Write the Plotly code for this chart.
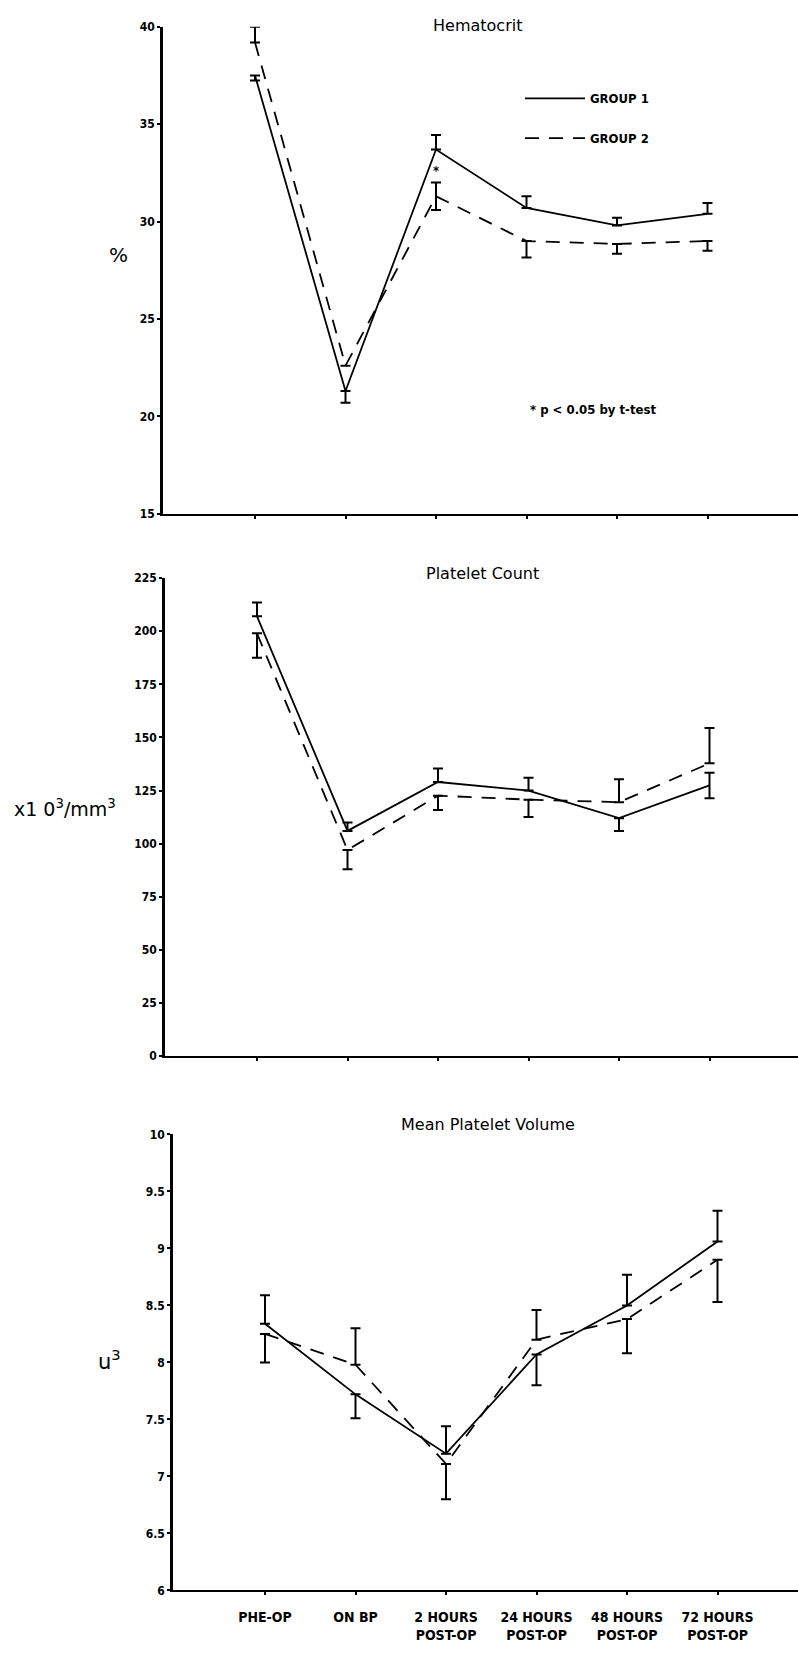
import plotly.graph_objects as go

# ---------------- data ----------------
categories = ["PHE-OP", "ON BP", "2 HOURS<br>POST-OP", "24 HOURS<br>POST-OP",
              "48 HOURS<br>POST-OP", "72 HOURS<br>POST-OP"]

hct_g1 = [37.5, 21.3, 33.7, 30.7, 29.8, 30.4]
hct_g1_up = [0, 0, 0.75, 0.6, 0.4, 0.55]
hct_g1_dn = [0.25, 0.6, 0, 0, 0, 0]
hct_g2 = [39.2, 22.6, 31.3, 29.0, 28.85, 29.0]
hct_g2_up = [0.8, 0, 0.7, 0, 0, 0]
hct_g2_dn = [0, 0, 0.7, 0.85, 0.5, 0.5]

plt_g1 = [207, 106, 129, 125, 112, 127.4]
plt_g1_up = [6.5, 4, 6.4, 6, 0, 6]
plt_g1_dn = [0, 0, 0, 0, 6, 6]
plt_g2 = [199, 97, 122.6, 120.7, 119.5, 137.8]
plt_g2_up = [0, 0, 0, 0, 10.8, 16.7]
plt_g2_dn = [11.5, 9, 6.8, 8.1, 0, 0]

mpv_g1 = [8.34, 7.72, 7.2, 8.07, 8.5, 9.06]
mpv_g1_up = [0.25, 0, 0.24, 0, 0.27, 0.27]
mpv_g1_dn = [0, 0.21, 0, 0.27, 0, 0]
mpv_g2 = [8.25, 7.98, 7.11, 8.2, 8.38, 8.9]
mpv_g2_up = [0, 0.32, 0, 0.26, 0, 0]
mpv_g2_dn = [0.25, 0, 0.31, 0, 0.3, 0.37]

group_names = ["GROUP 1", "GROUP 2"]
panel_titles = ["Hematocrit", "Platelet Count", "Mean Platelet Volume"]

# ---------------- figure ----------------
W, H = 798, 1655
xpos = list(range(len(categories)))
NARROW = "Liberation Sans Narrow, Arial Narrow, DejaVu Sans Condensed, sans-serif"
REG = "DejaVu Sans, Liberation Sans, Arial, sans-serif"

fig = go.Figure()

panels = [
    (hct_g1, hct_g1_up, hct_g1_dn, hct_g2, hct_g2_up, hct_g2_dn),
    (plt_g1, plt_g1_up, plt_g1_dn, plt_g2, plt_g2_up, plt_g2_dn),
    (mpv_g1, mpv_g1_up, mpv_g1_dn, mpv_g2, mpv_g2_up, mpv_g2_dn),
]

for i, (g1, g1u, g1d, g2, g2u, g2d) in enumerate(panels):
    xa = "x" if i == 0 else f"x{i+1}"
    ya = "y" if i == 0 else f"y{i+1}"
    for j, (vals, up, dn, dash) in enumerate([(g1, g1u, g1d, "solid"),
                                              (g2, g2u, g2d, "14px,10px")]):
        fig.add_trace(go.Scatter(
            x=xpos, y=vals, mode="lines", name=group_names[j],
            line=dict(color="black", width=1.8, dash=dash),
            error_y=dict(type="data", symmetric=False, array=up, arrayminus=dn,
                         color="black", thickness=2, width=5),
            xaxis=xa, yaxis=ya, showlegend=(i == 0), legendgroup=f"g{j}",
        ))

# axis geometry (pixels)
axis_left = [163, 165, 173]
first_cat = [255, 257, 265]
spacing = 90.5
ypix = [(20, 511), (576, 1058), (1137, 1597)]
yranges = [[15, 40], [0, 225], [6, 10]]
ydticks = [5, 25, 0.5]

for i in range(3):
    sx = "" if i == 0 else str(i + 1)
    left = axis_left[i]
    r0 = -(first_cat[i] - left) / spacing
    r1 = (W - first_cat[i]) / spacing
    fig.layout[f"xaxis{sx}"] = dict(
        domain=[left / W, 1], range=[r0, r1], anchor=f"y{sx}",
        showline=True, linecolor="black", linewidth=2, mirror=False,
        showgrid=False, zeroline=False,
        tickmode="array", tickvals=xpos, ticktext=categories,
        showticklabels=(i == 2), ticks="outside", ticklen=3, tickwidth=2,
        tickcolor="black", ticklabelstandoff=10,
        tickfont=dict(family=NARROW, size=14, color="black", weight="bold"),
    )
    top, bot = ypix[i]
    fig.layout[f"yaxis{sx}"] = dict(
        domain=[1 - bot / H, 1 - top / H], range=yranges[i], anchor=f"x{sx}",
        showline=True, linecolor="black", linewidth=2.5,
        showgrid=False, zeroline=False, dtick=ydticks[i], tick0=0,
        ticks="outside", ticklen=3, tickwidth=2, tickcolor="black",
        tickfont=dict(family=NARROW, size=12, color="black", weight="bold"),
    )

annotations = [
    dict(text=panel_titles[0], x=477 / W, y=1 - 19 / H),
    dict(text=panel_titles[1], x=482 / W, y=1 - 571 / H),
    dict(text=panel_titles[2], x=488 / W, y=1 - 1127 / H),
]
for a in annotations:
    a.update(xref="paper", yref="paper", showarrow=False, xanchor="center",
             yanchor="middle", font=dict(family=REG, size=16, color="black"))

annotations += [
    dict(text="%", x=118 / W, y=1 - 250 / H, xref="paper", yref="paper",
         xanchor="center", yanchor="middle", showarrow=False,
         font=dict(family=REG, size=20, color="black")),
    dict(text="x1 0<sup>3</sup>/mm<sup>3</sup>", x=65 / W, y=1 - 808 / H,
         xref="paper", yref="paper", xanchor="center", yanchor="middle",
         showarrow=False, font=dict(family=REG, size=19, color="black")),
    dict(text="u<sup>3</sup>", x=109 / W, y=1 - 1365 / H, xref="paper",
         yref="paper", xanchor="center", yanchor="middle", showarrow=False,
         font=dict(family=REG, size=21, color="black")),
    dict(text="* p < 0.05 by t-test", x=593 / W, y=1 - 406 / H, xref="paper",
         yref="paper", xanchor="center", yanchor="middle", showarrow=False,
         font=dict(family=NARROW, size=13, color="black", weight="bold")),
    dict(text="*", x=2, y=32.6, xref="x", yref="y", showarrow=False,
         xanchor="center", yanchor="middle",
         font=dict(family=NARROW, size=13, color="black", weight="bold")),
]

fig.update_layout(
    width=W, height=H, margin=dict(l=0, r=0, t=0, b=0),
    paper_bgcolor="white", plot_bgcolor="white",
    annotations=annotations,
    legend=dict(x=520 / W, y=1 - 77 / H, xanchor="left", yanchor="top",
                bgcolor="rgba(0,0,0,0)", tracegroupgap=20, itemwidth=60,
                font=dict(family=NARROW, size=13, color="black", weight="bold")),
)

fig.write_html("out.html",
               config={"displayModeBar": False},
               post_script="document.body.style.margin='0';"
                           "document.body.style.padding='0';"
                           "document.documentElement.style.overflow='hidden';")
